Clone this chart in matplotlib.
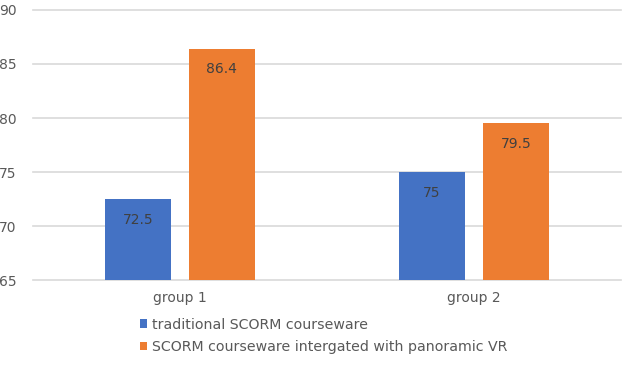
import matplotlib
matplotlib.use("Agg")
import matplotlib.pyplot as plt
import numpy as np

categories = ["group 1", "group 2"]
series_names = ["traditional SCORM courseware", "SCORM courseware intergated with panoramic VR"]
traditional = [72.5, 75]
vr = [86.4, 79.5]
yticks = [65, 70, 75, 80, 85, 90]
colors = ["#4472C4", "#ED7D31"]

plt.rcParams['font.family'] = ['DejaVu Sans']
fig = plt.figure(figsize=(6.28, 3.72), dpi=100)
ax = fig.add_axes([33/628, 1-280/372, (621-33)/628, 270/372])

x = np.arange(len(categories))
w = 0.225
gap = 0.06
off = (w + gap) / 2
b1 = ax.bar(x - off, traditional, w, color=colors[0], label=series_names[0], zorder=3)
b2 = ax.bar(x + off, vr, w, color=colors[1], label=series_names[1], zorder=3)

for bars, vals in ((b1, traditional), (b2, vr)):
    for r, v in zip(bars, vals):
        ax.text(r.get_x() + r.get_width()/2, v - 1.9, f"{v:g}", ha="center", va="center",
                fontsize=10, color="#404040", zorder=4)

ax.set_ylim(65, 90)
ax.set_xlim(-0.5, 1.5)
ax.set_yticks(yticks)
ax.set_xticks(x)
ax.set_xticklabels(categories)
ax.tick_params(axis="both", length=0, colors="#595959", labelsize=10)
ax.tick_params(axis="x", pad=8)
ax.tick_params(axis="y", pad=12)
ax.grid(False)
for t in yticks:
    ax.axhline(t, color="#d9d9d9", linewidth=1.2, zorder=0, clip_on=False)
for s in ax.spines.values():
    s.set_visible(False)

leg = fig.legend(handles=[b1, b2], loc="upper left", bbox_to_anchor=(134/628, 1-312/372),
                 frameon=False, fontsize=10.2, handlelength=0.55, handleheight=0.55,
                 handletextpad=0.3, labelspacing=0.6, borderaxespad=0)
for t in leg.get_texts():
    t.set_color("#595959")

fig.savefig("out.png", dpi=100)
